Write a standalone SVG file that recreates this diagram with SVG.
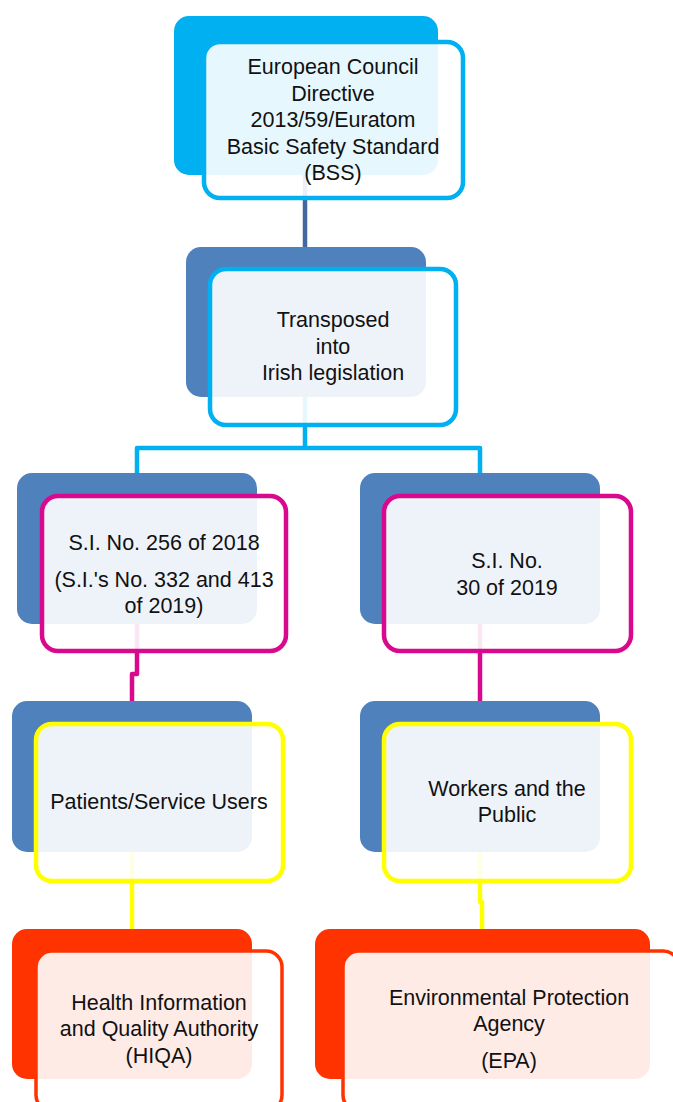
<svg xmlns="http://www.w3.org/2000/svg" width="673" height="1102" viewBox="0 0 673 1102">
<style>
.bg{fill:#ffffff}
.back-cyan{fill:#00B0F0}
.back-blue{fill:#4F81BD}
.back-red{fill:#FF3300}
.front{fill:#ffffff;fill-opacity:0.9;stroke-width:4.5}
.f-cyan{stroke:#00B0F0}
.f-mag{stroke:#D8098C}
.f-yel{stroke:#FFFF00}
.f-red{stroke:#FF3300;stroke-width:3.5}
.lbl{font-family:"Liberation Sans",Arial,sans-serif;font-size:21.5px;fill:#111111;text-anchor:middle}
.conn{fill:none;stroke-width:4.5;stroke-linejoin:round}
</style>
<rect class="bg" x="0" y="0" width="673" height="1102"/>
<g id="connectors">
  <path class="conn" stroke="#41699F" d="M305 175 V248"/>
  <path class="conn" stroke="#00B0F0" d="M305 397 V448 M137 474 V448 H480 V474"/>
  <path class="conn" stroke="#D8098C" d="M137 624 V674 H132 V702"/>
  <path class="conn" stroke="#D8098C" d="M480 624 V702"/>
  <path class="conn" stroke="#FFFF00" d="M132 852 V930"/>
  <path class="conn" stroke="#FFFF00" d="M480 852 V902 H482 V930"/>
</g>
<g id="node-bss">
  <rect class="back-cyan" x="174" y="16" width="264" height="159" rx="15"/>
  <rect class="front f-cyan" x="204" y="42" width="259" height="156" rx="16"/>
  <text class="lbl" x="333" y="74">European Council</text>
  <text class="lbl" x="333" y="100.5">Directive</text>
  <text class="lbl" x="333" y="127">2013/59/Euratom</text>
  <text class="lbl" x="333" y="153.5">Basic Safety Standard</text>
  <text class="lbl" x="333" y="180">(BSS)</text>
</g>
<g id="node-transposed">
  <rect class="back-blue" x="186" y="247" width="240" height="150" rx="15"/>
  <rect class="front f-cyan" x="210" y="269" width="246" height="156" rx="16"/>
  <text class="lbl" x="333" y="327">Transposed</text>
  <text class="lbl" x="333" y="354">into</text>
  <text class="lbl" x="333" y="380">Irish legislation</text>
</g>
<g id="node-si256">
  <rect class="back-blue" x="17" y="473" width="240" height="151" rx="15"/>
  <rect class="front f-mag" x="42" y="496" width="244" height="155" rx="16"/>
  <text class="lbl" x="164" y="550">S.I. No. 256 of 2018</text>
  <text class="lbl" x="164" y="587">(S.I.'s No. 332 and 413</text>
  <text class="lbl" x="164" y="613">of 2019)</text>
</g>
<g id="node-si30">
  <rect class="back-blue" x="360" y="473" width="240" height="151" rx="15"/>
  <rect class="front f-mag" x="384" y="496" width="247" height="155" rx="16"/>
  <text class="lbl" x="507" y="568">S.I. No.</text>
  <text class="lbl" x="507" y="595">30 of 2019</text>
</g>
<g id="node-patients">
  <rect class="back-blue" x="12" y="701" width="240" height="151" rx="15"/>
  <rect class="front f-yel" x="36" y="724" width="247" height="157" rx="16"/>
  <text class="lbl" x="159" y="809">Patients/Service Users</text>
</g>
<g id="node-workers">
  <rect class="back-blue" x="360" y="701" width="240" height="151" rx="15"/>
  <rect class="front f-yel" x="384" y="724" width="247" height="157" rx="16"/>
  <text class="lbl" x="507" y="796">Workers and the</text>
  <text class="lbl" x="507" y="822">Public</text>
</g>
<g id="node-hiqa">
  <rect class="back-red" x="12" y="929" width="240" height="150" rx="15"/>
  <rect class="front f-red" x="36" y="951" width="246" height="160" rx="16"/>
  <text class="lbl" x="159" y="1010">Health Information</text>
  <text class="lbl" x="159" y="1036">and Quality Authority</text>
  <text class="lbl" x="159" y="1063">(HIQA)</text>
</g>
<g id="node-epa">
  <rect class="back-red" x="315" y="929" width="335" height="150" rx="15"/>
  <rect class="front f-red" x="343" y="951" width="336" height="160" rx="16"/>
  <text class="lbl" x="509" y="1005">Environmental Protection</text>
  <text class="lbl" x="509" y="1031">Agency</text>
  <text class="lbl" x="509" y="1068">(EPA)</text>
</g>
</svg>
